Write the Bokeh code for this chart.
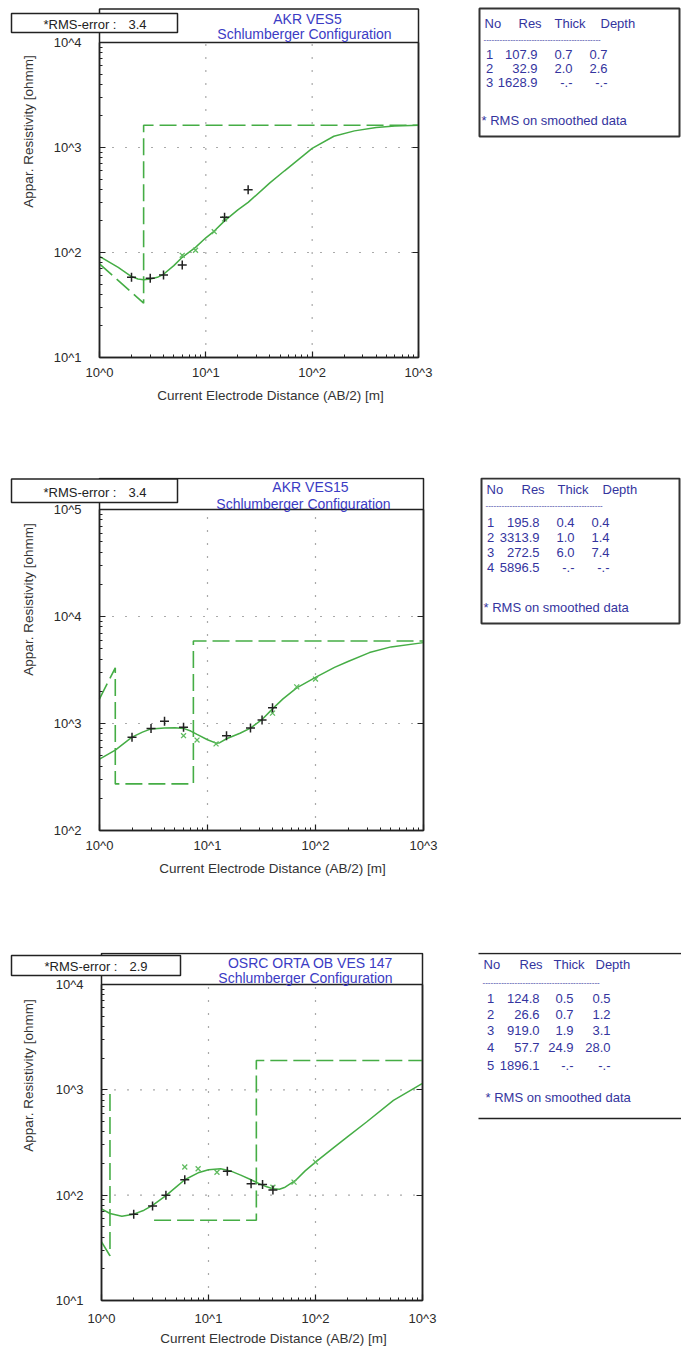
import math
from bokeh.plotting import figure
from bokeh.models import (FixedTicker, CustomJSTickFormatter, Label, LogAxis, Range1d,
                          LogScale, BoxAnnotation)
from bokeh.layouts import column
from bokeh.embed import file_html
from bokeh.resources import INLINE

FONT = "Liberation Sans"
GREEN = "#45ad45"
XGREEN = "#5fbb5f"
BLUE_TITLE = "#3b3bc4"
BLUE_TAB = "#34349e"
DARK = "#222222"

# ---------------- data ----------------
x_ticks = [1, 10, 100, 1000]
x_tick_labels = ["10^0", "10^1", "10^2", "10^3"]
x_title = "Current Electrode Distance (AB/2) [m]"
y_title = "Appar. Resistivity [ohmm]"
table_header = ["No", "Res", "Thick", "Depth"]
note_text = "* RMS on smoothed data"
rms_label = "*RMS-error :"

# Panel 1 : AKR VES5
p1_title = ["AKR VES5", "Schlumberger Configuration"]
p1_rms = 3.4
p1_y_ticks = [10, 100, 1000, 10000]
p1_y_tick_labels = ["10^1", "10^2", "10^3", "10^4"]
p1_meas_x = [2, 3, 4, 6, 15, 25]
p1_meas_y = [58, 57, 61, 76, 217, 395]
p1_smooth_x = [6, 8, 12, 15]
p1_smooth_y = [94, 105, 158, 209]
p1_curve_x = [1, 1.5, 2, 2.3, 2.6, 3, 3.5, 4, 5, 6, 8, 10, 12, 15, 20, 25, 40, 55, 100, 160, 250, 400, 600, 1000]
p1_curve_y = [92, 72, 59, 56, 55, 56, 58, 62, 75, 90, 112, 138, 160, 200, 255, 300, 460, 600, 980, 1280, 1440, 1550, 1600, 1630]
p1_model_x = [1, 2.6, 2.6, 1000]
p1_model_y = [78, 32.9, 1628.9, 1628.9]
p1_res = [107.9, 32.9, 1628.9]
p1_thick = [0.7, 2.0, None]
p1_depth = [0.7, 2.6, None]

# Panel 2 : AKR VES15
p2_title = ["AKR VES15", "Schlumberger Configuration"]
p2_rms = 3.4
p2_y_ticks = [100, 1000, 10000, 100000]
p2_y_tick_labels = ["10^2", "10^3", "10^4", "10^5"]
p2_meas_x = [2, 3, 4, 6, 15, 25, 32, 40]
p2_meas_y = [745, 900, 1050, 920, 770, 910, 1080, 1400]
p2_smooth_x = [6, 8, 12, 40, 67, 100]
p2_smooth_y = [770, 700, 645, 1250, 2200, 2600]
p2_curve_x = [1, 1.4, 2, 2.5, 3, 4, 5, 6, 7, 8, 10, 12, 13, 15, 20, 25, 32, 40, 50, 67, 100, 150, 200, 316, 500, 1000]
p2_curve_y = [465, 565, 745, 830, 890, 910, 912, 900, 850, 790, 705, 655, 662, 720, 810, 905, 1090, 1370, 1700, 2150, 2700, 3350, 3800, 4600, 5200, 5700]
p2_model_x = [1, 1.4, 1.4, 7.4, 7.4, 1000]
p2_model_y = [1700, 3313.9, 272.5, 272.5, 5896.5, 5896.5]
p2_res = [195.8, 3313.9, 272.5, 5896.5]
p2_thick = [0.4, 1.0, 6.0, None]
p2_depth = [0.4, 1.4, 7.4, None]

# Panel 3 : OSRC ORTA OB VES 147
p3_title = ["OSRC ORTA OB VES 147", "Schlumberger Configuration"]
p3_rms = 2.9
p3_y_ticks = [10, 100, 1000, 10000]
p3_y_tick_labels = ["10^1", "10^2", "10^3", "10^4"]
p3_meas_x = [2, 3, 4, 6, 15, 25, 32, 40]
p3_meas_y = [66, 79, 100, 140, 169, 128, 126, 112]
p3_smooth_x = [6, 8, 12, 40, 63, 100]
p3_smooth_y = [185, 178, 165, 119, 133, 206]
p3_curve_x = [1, 1.2, 1.55, 2, 2.5, 3, 4, 5, 6, 8, 10, 13, 16, 20, 25, 30, 35, 40, 46, 52, 65, 80, 100, 150, 200, 300, 535, 1000]
p3_curve_y = [74, 67, 63, 66, 72, 80, 99, 120, 140, 163, 174, 178, 170, 155, 140, 128, 120, 115, 114, 119, 138, 170, 206, 286, 360, 495, 795, 1150]
p3_model_x = [1, 1.2, 1.2, float("nan"), 3.1, 28.0, 28.0, 1000]
p3_model_y = [36, 26.6, 919.0, float("nan"), 57.7, 57.7, 1896.1, 1896.1]
p3_res = [124.8, 26.6, 919.0, 57.7, 1896.1]
p3_thick = [0.5, 0.7, 1.9, 24.9, None]
p3_depth = [0.5, 1.2, 3.1, 28.0, None]


def fmt(v):
    return "-.-" if v is None else "%.1f" % v


def tick_formatter(ticks, labels):
    return CustomJSTickFormatter(args=dict(t=ticks, l=labels),
                                 code="const i = t.indexOf(tick); return i >= 0 ? l[i] : '';")


def style_axis(ax, minor_in=3, labels=True):
    ax.major_tick_in = 6
    ax.major_tick_out = 0
    ax.minor_tick_in = minor_in
    ax.minor_tick_out = 0
    ax.axis_line_color = DARK
    ax.axis_line_width = 1.5
    ax.major_tick_line_color = DARK
    ax.minor_tick_line_color = DARK
    ax.major_tick_line_width = 1.2
    ax.major_label_text_font = FONT
    ax.major_label_text_font_size = "13px"
    ax.major_label_text_color = "#2a2a2a" if labels else None


def make_panel(g, tg, title, rms, y_ticks, y_labels, mx, my, sx, sy, cx, cy, modx, mody,
               res, thick, depth):
    W, H, top = 681, g["h"], g["page_top"]
    bottom_page = top + H
    ndx = math.log10(x_ticks[-1] / x_ticks[0])
    ndy = math.log10(y_ticks[-1] / y_ticks[0])
    ppx = (g["x1"] - g["x0"]) / ndx
    ppy = (g["yb"] - g["yt"]) / ndy
    lx0 = math.log10(x_ticks[0])
    ly0 = math.log10(y_ticks[0])
    xr = Range1d(10 ** (lx0 - g["x0"] / ppx), 10 ** (lx0 + (W - g["x0"]) / ppx))
    yr = Range1d(10 ** (ly0 - (bottom_page - g["yb"]) / ppy), 10 ** (ly0 + (g["yb"] - top) / ppy))
    box_top_val = 10 ** (ly0 + (g["yb"] - g["box_top"]) / ppy)

    p = figure(width=W, height=H, x_range=xr, y_range=yr, x_axis_type="log", y_axis_type="log",
               x_axis_location=None, y_axis_location=None, min_border=0,
               toolbar_location=None, output_backend="svg", title=None)
    p.x_scale = LogScale()
    p.y_scale = LogScale()
    p.grid.visible = False
    p.outline_line_color = None
    p.background_fill_color = "white"
    p.border_fill_color = "white"

    x_minor = [m * d for d in x_ticks[:-1] for m in range(2, 10)]
    y_minor = [m * d for d in y_ticks[:-1] for m in range(2, 10)]

    # dotted grid at interior decades
    gx = x_ticks[1:-1]
    gy = y_ticks[1:-1]
    p.segment(x0=gx, y0=[y_ticks[0]] * len(gx), x1=gx, y1=[y_ticks[-1]] * len(gx),
              line_color="#555555", line_width=1.2, line_dash="1 12")
    p.segment(x0=[x_ticks[0]] * len(gy), y0=gy, x1=[x_ticks[-1]] * len(gy), y1=gy,
              line_color="#555555", line_width=1.2, line_dash="1 12")

    # plot box with title band
    p.quad(left=[x_ticks[0]], right=[x_ticks[-1]], bottom=[y_ticks[0]], top=[box_top_val],
           fill_color=None, line_color=DARK, line_width=1.5)
    p.segment(x0=[x_ticks[0]], y0=[y_ticks[-1]], x1=[x_ticks[-1]], y1=[y_ticks[-1]],
              line_color=DARK, line_width=1.5)

    # axes drawn at the plot box edges
    left = LogAxis(fixed_location=x_ticks[0], bounds=(y_ticks[0], y_ticks[-1]),
                   ticker=FixedTicker(ticks=y_ticks, minor_ticks=y_minor),
                   formatter=tick_formatter(y_ticks, y_labels), major_label_standoff=g["ystand"])
    style_axis(left)
    p.add_layout(left, "left")
    below = LogAxis(fixed_location=y_ticks[0], bounds=(x_ticks[0], x_ticks[-1]),
                    ticker=FixedTicker(ticks=x_ticks, minor_ticks=x_minor),
                    formatter=tick_formatter(x_ticks, x_tick_labels), major_label_standoff=g["xstand"])
    style_axis(below)
    p.add_layout(below, "below")
    right = LogAxis(fixed_location=x_ticks[-1], bounds=(y_ticks[0], y_ticks[-1]),
                    ticker=FixedTicker(ticks=y_ticks), formatter=tick_formatter(y_ticks, y_labels))
    style_axis(right, minor_in=0, labels=False)
    right.major_label_text_font_size = "1px"
    p.add_layout(right, "right")

    # data
    p.line(modx, mody, line_color=GREEN, line_width=1.6, line_dash="17 6")
    p.line(cx, cy, line_color=GREEN, line_width=1.5)
    p.scatter(sx, sy, marker="x", size=7, line_color=XGREEN, line_width=1.3)
    p.scatter(mx, my, marker="cross", size=9, line_color=DARK, line_width=1.5)

    def sy_(py):
        return bottom_page - py

    def lab(px, py, text, size="13px", color=DARK, align="center", **kw):
        p.add_layout(Label(x=px, y=sy_(py), x_units="screen", y_units="screen", text=text,
                           text_font=FONT, text_font_size=size, text_color=color,
                           text_align=align, text_baseline="middle", level="overlay", **kw))

    def box(l, r, t, b, fill=None, line=DARK, lw=1.5):
        p.add_layout(BoxAnnotation(left=l, right=r, top=sy_(t), bottom=sy_(b),
                                   left_units="screen", right_units="screen",
                                   top_units="screen", bottom_units="screen",
                                   fill_color=fill if fill else "white", fill_alpha=1 if fill else 0,
                                   line_color=line, line_alpha=1 if line else 0,
                                   line_width=lw, level="annotation"))

    # titles and RMS box
    lab(g["t1"][0], g["t1"][1], title[0], size="14px", color=BLUE_TITLE)
    lab(g["t2"][0], g["t2"][1], title[1], size="14px", color=BLUE_TITLE)
    rb = g["rms_box"]
    box(rb[0], rb[1], rb[2], rb[3], fill="white")
    lab(g["rms_txt"][0], g["rms_txt"][2], rms_label, size="13px", align="left")
    lab(g["rms_txt"][1], g["rms_txt"][2], "%.1f" % rms, size="13px", align="left")
    # axis titles
    lab(g["ylab"][0], g["ylab"][1], y_title, size="13.5px", color="#333333", angle=math.pi / 2)
    lab(g["xlab"][0], g["xlab"][1], x_title, size="13.5px", color="#333333")

    # layer table
    if tg["box"]:
        b = tg["box_px"]
        box(b[0], b[1], b[2], b[3], fill=None, line="#333333", lw=2)
    else:
        for yy in tg["lines"]:
            box(tg["line_x"][0], tg["line_x"][1], yy - 0.8, yy + 0.8, fill="#222222", line=None)
    for hxp, htxt in zip(tg["hx"], table_header):
        lab(hxp, tg["hy"], htxt, size="13px", color=BLUE_TAB, align="left")
    lab(tg["dash_x"], tg["dy"], "-" * 44, size="8px", color=BLUE_TAB, align="left")
    for i in range(len(res)):
        yy = tg["rows"][i]
        lab(tg["vx"][0], yy, str(i + 1), size="13px", color=BLUE_TAB, align="center")
        lab(tg["vx"][1], yy, fmt(res[i]), size="13px", color=BLUE_TAB, align="right")
        lab(tg["vx"][2], yy, fmt(thick[i]), size="13px", color=BLUE_TAB, align="right")
        lab(tg["vx"][3], yy, fmt(depth[i]), size="13px", color=BLUE_TAB, align="right")
    lab(tg["note_x"], tg["ny"], note_text, size="13px", color=BLUE_TAB, align="left")
    return p


# geometry in page pixels (layout only)
g1 = dict(h=477, page_top=0, x0=99, x1=418, yb=357, yt=42, box_top=8.5, ystand=18, xstand=7,
          t1=(307, 18), t2=(304, 33), rms_box=(11, 177, 13, 32), rms_txt=(43, 128, 23.5),
          ylab=(28, 131), xlab=(270, 395))
g2 = dict(h=475, page_top=477, x0=99, x1=423, yb=830, yt=509, box_top=478, ystand=18, xstand=7,
          t1=(310, 486), t2=(303, 503), rms_box=(11, 177, 478.5, 502), rms_txt=(43, 128, 492),
          ylab=(28, 599), xlab=(272, 868))
g3 = dict(h=397, page_top=952, x0=101, x1=422, yb=1300, yt=984, box_top=953, ystand=18, xstand=10,
          t1=(310, 962), t2=(305, 977), rms_box=(11, 180, 955, 975), rms_txt=(44, 129, 966),
          ylab=(28, 1075), xlab=(273, 1338))

tg1 = dict(box=True, box_px=(479, 679, 8, 136), hx=[484, 518, 554, 600], hy=23, dash_x=483, dy=39,
           rows=[54, 68, 82], vx=[489, 537, 572, 607], note_x=481, ny=120)
tg2 = dict(box=True, box_px=(481, 679, 478, 623), hx=[486, 521, 557, 602], hy=489, dash_x=485, dy=505,
           rows=[522, 537, 552, 567], vx=[490, 539, 574, 609], note_x=483, ny=607)
tg3 = dict(box=False, lines=[953, 1118], line_x=(478, 681), hx=[483, 519, 553, 595], hy=964,
           dash_x=482, dy=982, rows=[998, 1014, 1030, 1047, 1065], vx=[490, 539, 573, 610],
           note_x=485, ny=1097)

p1 = make_panel(g1, tg1, p1_title, p1_rms, p1_y_ticks, p1_y_tick_labels, p1_meas_x, p1_meas_y,
                p1_smooth_x, p1_smooth_y, p1_curve_x, p1_curve_y, p1_model_x, p1_model_y,
                p1_res, p1_thick, p1_depth)
p2 = make_panel(g2, tg2, p2_title, p2_rms, p2_y_ticks, p2_y_tick_labels, p2_meas_x, p2_meas_y,
                p2_smooth_x, p2_smooth_y, p2_curve_x, p2_curve_y, p2_model_x, p2_model_y,
                p2_res, p2_thick, p2_depth)
p3 = make_panel(g3, tg3, p3_title, p3_rms, p3_y_ticks, p3_y_tick_labels, p3_meas_x, p3_meas_y,
                p3_smooth_x, p3_smooth_y, p3_curve_x, p3_curve_y, p3_model_x, p3_model_y,
                p3_res, p3_thick, p3_depth)

layout = column(p1, p2, p3)
open("out.html", "w").write(file_html(layout, INLINE))
